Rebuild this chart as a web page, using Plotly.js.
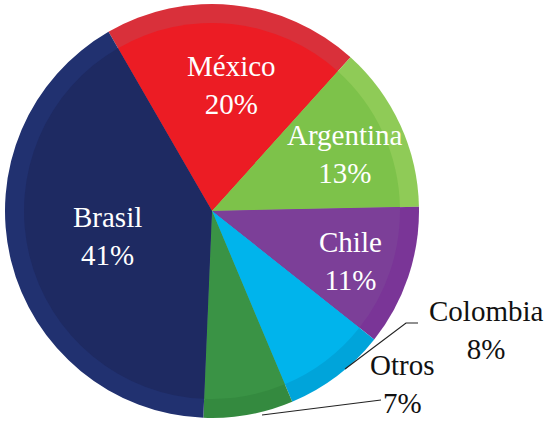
<!DOCTYPE html>
<html>
<head>
<meta charset="utf-8">
<script src="https://cdn.plot.ly/plotly-3.0.1.min.js"></script>
<style>html,body{margin:0;padding:0;background:#fff;}#chart{width:549px;height:426px;}</style>
</head>
<body>
<div id="chart"></div>
<script>
// Data
const countries = ['México', 'Argentina', 'Chile', 'Colombia', 'Otros', 'Brasil'];
const shares = [20, 13, 11, 8, 7, 41];

// Styling
const faceColors = ['#EC1C24', '#7DC24A', '#7C3F98', '#00B4EC', '#3A9345', '#1E2A62'];
const rimColors  = ['#D9303A', '#8FCB57', '#7A3597', '#00A4DA', '#348A3F', '#213170'];
const labelColors = ['#ffffff', '#ffffff', '#ffffff', '#111111', '#111111', '#ffffff'];
// label centres in pixels (x, y from top-left)
const labelPos = [[231, 85], [345, 154], [350, 261], [486, 330], [402, 384], [107, 236]];

const W = 549, H = 426;
const cx = 212, cy = 211, R = 207, r = 188;
const FONT = 'Liberation Serif';

const px = x => x / W;
const py = y => 1 - y / H;

const outer = {
  type: 'pie', values: shares, labels: countries, sort: false, direction: 'clockwise',
  rotation: -30, textinfo: 'none', hoverinfo: 'label+percent',
  marker: {colors: rimColors, line: {width: 0}},
  domain: {x: [px(cx - R), px(cx + R)], y: [py(cy + R), py(cy - R)]},
  showlegend: false
};
const inner = {
  type: 'pie', values: shares, labels: countries, sort: false, direction: 'clockwise',
  rotation: -30, textinfo: 'none', hoverinfo: 'skip',
  marker: {colors: faceColors, line: {width: 0}},
  domain: {x: [px(cx - r), px(cx + r)], y: [py(cy + r), py(cy - r)]},
  showlegend: false
};

const annotations = countries.map((c, i) => ({
  text: c + '<br>' + shares[i] + '%',
  x: px(labelPos[i][0]), y: py(labelPos[i][1]), xref: 'paper', yref: 'paper',
  xanchor: 'center', yanchor: 'middle', showarrow: false, align: 'center',
  font: {family: FONT, size: 29, color: labelColors[i]}
}));

const shapes = [
  {type: 'path', xref: 'paper', yref: 'paper',
   path: `M ${px(418)} ${py(323)} L ${px(406)} ${py(323)} L ${px(345)} ${py(369)}`,
   line: {color: '#222', width: 1.2}},
  {type: 'path', xref: 'paper', yref: 'paper',
   path: `M ${px(381)} ${py(400)} L ${px(262)} ${py(415)}`,
   line: {color: '#222', width: 1.2}}
];

Plotly.newPlot('chart', [outer, inner], {
  width: W, height: H, margin: {l: 0, r: 0, t: 0, b: 0},
  font: {family: FONT},
  paper_bgcolor: '#ffffff', plot_bgcolor: '#ffffff',
  annotations: annotations, shapes: shapes
}, {displayModeBar: false, staticPlot: true}).then(() => {
  document.querySelectorAll('.annotation-text').forEach(t => {
    t.style.fontFamily = '"Liberation Serif", serif';
  });
});
</script>
</body>
</html>
